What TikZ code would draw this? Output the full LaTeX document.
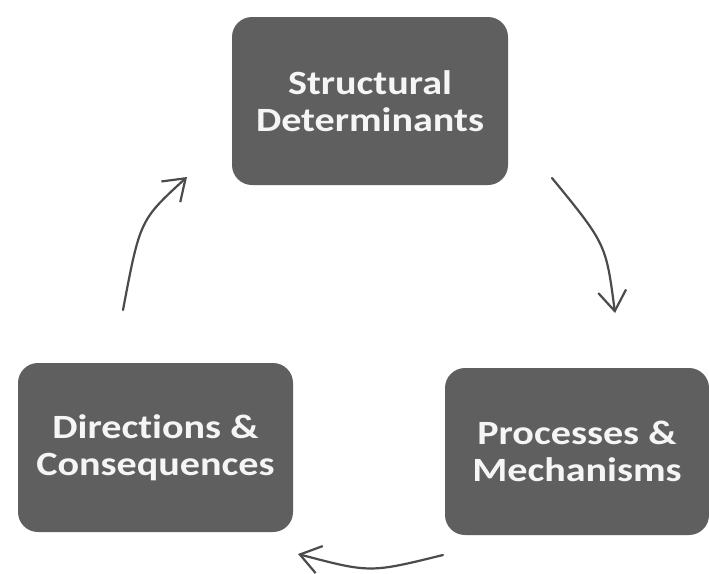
\documentclass[tikz,border=0pt]{standalone}
\usepackage{fontspec}
\newfontfamily\boxfont{Carlito}[FakeStretch=1.18,Ligatures=NoCommon]
\usetikzlibrary{arrows.meta}
\definecolor{boxgray}{RGB}{95,95,95}
\definecolor{linegray}{RGB}{75,75,75}
\definecolor{boxtext}{RGB}{245,245,245}
\begin{document}
\begin{tikzpicture}[x=1pt,y=-1pt,
  stagebox/.style={rectangle, rounded corners=20pt, fill=boxgray, text=boxtext,
    font=\boxfont\bfseries\fontsize{34}{37}\selectfont, align=center, inner sep=0pt},
  cyc/.style={draw=linegray, line width=2.2pt, line cap=round,
    -{Straight Barb[length=20pt,width=28pt,line width=2.2pt]}}]
\useasboundingbox (0,0) rectangle (709,573);
\fill[white] (0,0) rectangle (709,573);
\node[stagebox, minimum width=276pt, minimum height=168pt] (sd) at (370,101) {Structural\\Determinants};
\node[stagebox, minimum width=275pt, minimum height=169pt] (dc) at (155.5,447.5) {Directions \&\\Consequences};
\node[stagebox, minimum width=264pt, minimum height=167pt] (pm) at (577,451.5) {Processes \&\\Mechanisms};
\coordinate (a1s) at (123,310);
\coordinate (a1e) at (187,177);
\coordinate (a2s) at (552,178);
\coordinate (a2e) at (615,313);
\coordinate (a3s) at (443,555);
\coordinate (a3e) at (298,554);
\draw[cyc] (a1s) .. controls (140,220) .. (a1e);
\draw[cyc] (a2s) .. controls (606,244) .. (a2e);
\draw[cyc] (a3s) .. controls (370,573) .. (a3e);
\end{tikzpicture}
\end{document}
